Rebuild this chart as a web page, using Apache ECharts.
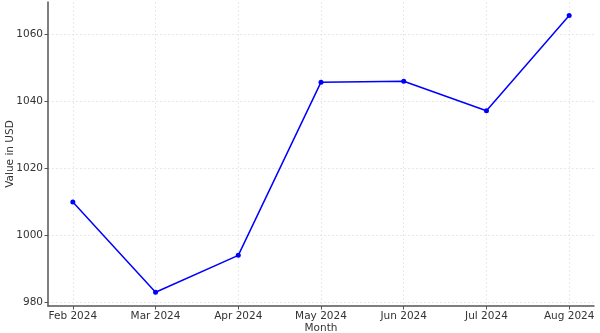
<!DOCTYPE html>
<html><head><meta charset="utf-8">
<script src="https://cdn.jsdelivr.net/npm/echarts@6/dist/echarts.min.js"></script>
<style>html,body{margin:0;padding:0;background:#fff}#c{width:600px;height:333px}</style>
</head><body><div id="c"></div>
<script>
const months = ["Feb 2024","Mar 2024","Apr 2024","May 2024","Jun 2024","Jul 2024","Aug 2024"];
const values = [1010.0, 983.1, 994.1, 1045.7, 1046.0, 1037.2, 1065.6];
const yTicks = [980, 1000, 1020, 1040, 1060];
const xIdx = months.map((m, i) => i);

const chart = echarts.init(document.getElementById('c'), null, {renderer: 'canvas'});
const font = 'DejaVu Sans';
chart.setOption({
  animation: false,
  grid: {left: 48, right: 6, top: 2, bottom: 27, containLabel: false, outerBoundsMode: 'none'},
  xAxis: {
    type: 'value', min: -0.3, max: 6.3,
    name: 'Month', nameLocation: 'middle', nameGap: 17, nameMoveOverlap: false,
    nameTextStyle: {fontFamily: font, fontSize: 10.5, color: '#333'},
    axisLine: {show: true, onZero: false, lineStyle: {color: '#555', width: 1.5}},
    axisTick: {show: true, length: 3.5, customValues: xIdx, lineStyle: {color: '#555'}},
    axisLabel: {customValues: xIdx, formatter: v => months[Math.round(v)], fontFamily: font, fontSize: 10.5, color: '#333', margin: 5},
    splitLine: {show: true, lineStyle: {color: '#e3e3e3', type: [2, 2], width: 0.8}}
  },
  yAxis: {
    type: 'value', min: 979, max: 1069.6,
    name: 'Value in USD', nameLocation: 'middle', nameGap: 32, nameRotate: 90, nameMoveOverlap: false,
    nameTextStyle: {fontFamily: font, fontSize: 10.5, color: '#333'},
    axisLine: {show: true, onZero: false, lineStyle: {color: '#555', width: 1.5}},
    axisTick: {show: true, length: 3.5, inside: false, customValues: yTicks, lineStyle: {color: '#555'}},
    axisLabel: {customValues: yTicks, formatter: v => String(v), fontFamily: font, fontSize: 10.5, color: '#333', margin: 5},
    splitLine: {show: true, lineStyle: {color: '#e3e3e3', type: [2, 2], width: 0.8}}
  },
  series: [{
    type: 'line',
    data: values.map((v, i) => [xIdx[i], v]),
    symbol: 'circle', symbolSize: 5,
    lineStyle: {color: '#0000ff', width: 1.5},
    itemStyle: {color: '#0000ff'}
  }]
});
</script></body></html>
